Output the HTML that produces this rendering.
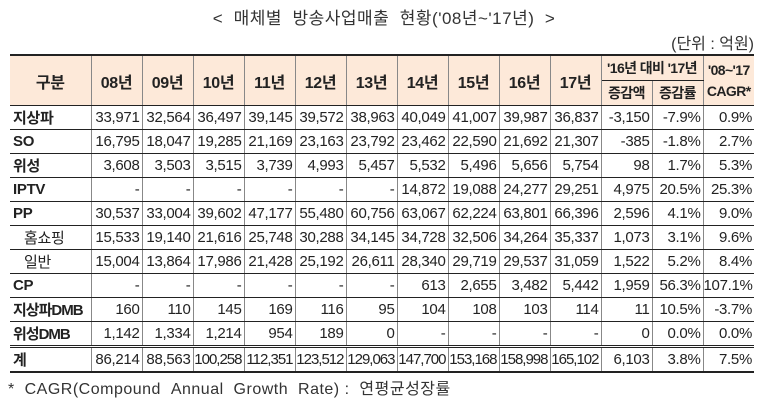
<!DOCTYPE html>
<html><head><meta charset="utf-8">
<style>
body{margin:0;background:#fff;width:768px;height:406px;overflow:hidden;position:relative;font-family:"Liberation Sans","Noto Sans CJK KR","NanumGothic",sans-serif;color:#222}
.title{position:absolute;top:4px;left:0;width:768px;text-align:center;font-size:17px;color:#333;letter-spacing:0.5px}
.unit{position:absolute;top:30px;right:14px;font-size:16px;color:#333}
.foot{position:absolute;top:375px;left:8px;font-size:16px;color:#333;letter-spacing:0.5px}
table{position:absolute;left:10px;top:54px;border-collapse:collapse;table-layout:fixed;width:744px}
td,th{height:23px;padding:0 2px 0 0;font-size:15px;text-align:right;border-left:1.5px solid #888;border-right:1.5px solid #888;border-bottom:1.5px solid #222;white-space:nowrap;overflow:hidden;letter-spacing:-0.3px}
th{background:#fde9d9;font-weight:bold;text-align:center;padding:0;font-size:16px}
tr.hd th{border-bottom:1.5px solid #222}
thead tr:first-child th{border-top:2.5px solid #222}
td.l{text-align:left;font-weight:bold;padding-left:3px;border-left:none}
td.s{font-weight:normal;padding-left:14px}
th.first{border-left:none}
td:last-child,th:last-child{border-right:none}
tr.tot td{border-top:3px double #222;border-bottom:2.5px solid #222}
.sm{font-size:14px;letter-spacing:-0.6px}
</style></head><body>
<div class="title">&lt; &nbsp;매체별 &nbsp;방송사업매출 &nbsp;현황('08년~'17년) &nbsp;&gt;</div>
<div class="unit">(단위 : 억원)</div>
<table>
<colgroup><col style="width:81px"><col span="13" style="width:51px"></colgroup>
<thead>
<tr style="height:25px">
<th class="first" rowspan="2">구분</th><th rowspan="2">08년</th><th rowspan="2">09년</th><th rowspan="2">10년</th><th rowspan="2">11년</th><th rowspan="2">12년</th><th rowspan="2">13년</th><th rowspan="2">14년</th><th rowspan="2">15년</th><th rowspan="2">16년</th><th rowspan="2">17년</th>
<th colspan="2" class="sm" style="height:24px">'16년 대비 '17년</th><th rowspan="2" class="sm" style="line-height:21px">'08~'17<br>CAGR*</th></tr>
<tr class="hd" style="height:25px"><th class="sm">증감액</th><th class="sm">증감률</th></tr>
</thead>
<tbody>
<tr><td class="l">지상파</td><td>33,971</td><td>32,564</td><td>36,497</td><td>39,145</td><td>39,572</td><td>38,963</td><td>40,049</td><td>41,007</td><td>39,987</td><td>36,837</td><td>-3,150</td><td>-7.9%</td><td>0.9%</td></tr>
<tr><td class="l">SO</td><td>16,795</td><td>18,047</td><td>19,285</td><td>21,169</td><td>23,163</td><td>23,792</td><td>23,462</td><td>22,590</td><td>21,692</td><td>21,307</td><td>-385</td><td>-1.8%</td><td>2.7%</td></tr>
<tr><td class="l">위성</td><td>3,608</td><td>3,503</td><td>3,515</td><td>3,739</td><td>4,993</td><td>5,457</td><td>5,532</td><td>5,496</td><td>5,656</td><td>5,754</td><td>98</td><td>1.7%</td><td>5.3%</td></tr>
<tr><td class="l">IPTV</td><td>-</td><td>-</td><td>-</td><td>-</td><td>-</td><td>-</td><td>14,872</td><td>19,088</td><td>24,277</td><td>29,251</td><td>4,975</td><td>20.5%</td><td>25.3%</td></tr>
<tr><td class="l">PP</td><td>30,537</td><td>33,004</td><td>39,602</td><td>47,177</td><td>55,480</td><td>60,756</td><td>63,067</td><td>62,224</td><td>63,801</td><td>66,396</td><td>2,596</td><td>4.1%</td><td>9.0%</td></tr>
<tr><td class="l s">홈쇼핑</td><td>15,533</td><td>19,140</td><td>21,616</td><td>25,748</td><td>30,288</td><td>34,145</td><td>34,728</td><td>32,506</td><td>34,264</td><td>35,337</td><td>1,073</td><td>3.1%</td><td>9.6%</td></tr>
<tr><td class="l s">일반</td><td>15,004</td><td>13,864</td><td>17,986</td><td>21,428</td><td>25,192</td><td>26,611</td><td>28,340</td><td>29,719</td><td>29,537</td><td>31,059</td><td>1,522</td><td>5.2%</td><td>8.4%</td></tr>
<tr><td class="l">CP</td><td>-</td><td>-</td><td>-</td><td>-</td><td>-</td><td>-</td><td>613</td><td>2,655</td><td>3,482</td><td>5,442</td><td>1,959</td><td>56.3%</td><td>107.1%</td></tr>
<tr><td class="l" style="letter-spacing:-1px">지상파DMB</td><td>160</td><td>110</td><td>145</td><td>169</td><td>116</td><td>95</td><td>104</td><td>108</td><td>103</td><td>114</td><td>11</td><td>10.5%</td><td>-3.7%</td></tr>
<tr><td class="l" style="letter-spacing:-1px">위성DMB</td><td>1,142</td><td>1,334</td><td>1,214</td><td>954</td><td>189</td><td>0</td><td>-</td><td>-</td><td>-</td><td>-</td><td>0</td><td>0.0%</td><td>0.0%</td></tr>
<tr class="tot"><td class="l">계</td><td>86,214</td><td>88,563</td><td style="letter-spacing:-1px">100,258</td><td style="letter-spacing:-1px">112,351</td><td style="letter-spacing:-1px">123,512</td><td style="letter-spacing:-1px">129,063</td><td style="letter-spacing:-1px">147,700</td><td style="letter-spacing:-1px">153,168</td><td style="letter-spacing:-1px">158,998</td><td style="letter-spacing:-1px">165,102</td><td>6,103</td><td>3.8%</td><td>7.5%</td></tr>
</tbody></table>
<div class="foot">* &nbsp;CAGR(Compound &nbsp;Annual &nbsp;Growth &nbsp;Rate) : &nbsp;연평균성장률</div>
</body></html>
